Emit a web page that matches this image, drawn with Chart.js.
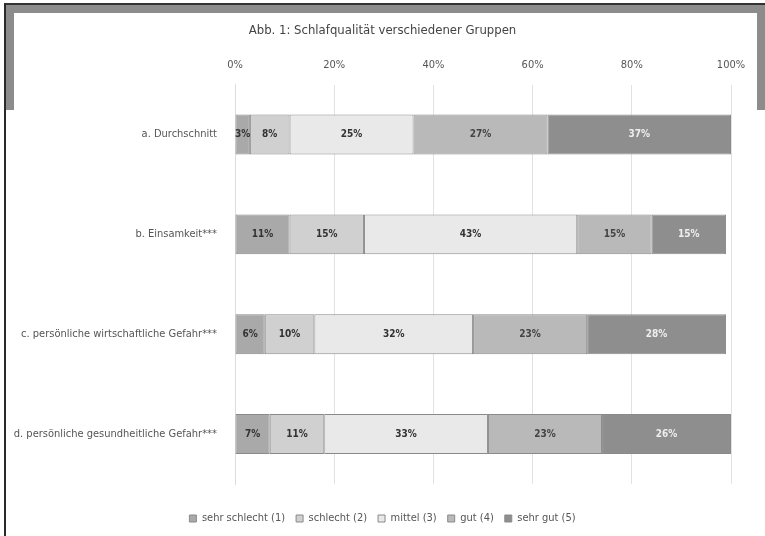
<!DOCTYPE html>
<html>
<head>
<meta charset="utf-8">
<script src="https://cdn.jsdelivr.net/npm/chart.js@4.4.1/dist/chart.umd.min.js"></script>
<style>
  html, body { margin: 0; padding: 0; background: #fff; }
  #wrap { position: relative; width: 765px; height: 536px; overflow: hidden; }
  #myChart { position: absolute; left: 0; top: 0; }
  .edge { position: absolute; pointer-events: none; }
</style>
</head>
<body>
<div id="wrap">
  <canvas id="myChart" width="765" height="536"></canvas>
  <!-- grey frame of the figure -->
  <div class="edge" style="left:4px;top:3px;width:761px;height:2px;background:#333"></div>
  <div class="edge" style="left:6px;top:5px;width:759px;height:8px;background:#8c8c8c"></div>
  <div class="edge" style="left:4px;top:3px;width:2px;height:533px;background:#2a2a2a"></div>
  <div class="edge" style="left:6px;top:5px;width:8px;height:105px;background:#8c8c8c"></div>
  <div class="edge" style="left:757px;top:5px;width:8px;height:105px;background:#8c8c8c"></div>
</div>
<script>
console.log("Start!");

const groups = ["a. Durchschnitt", "b. Einsamkeit***", "c. persönliche wirtschaftliche Gefahr***", "d. persönliche gesundheitliche Gefahr***"];
const ratingNames = ["sehr schlecht (1)", "schlecht (2)", "mittel (3)", "gut (4)", "sehr gut (5)"];
const sehrSchlecht = [3, 11, 6, 7];
const schlecht = [8, 15, 10, 11];
const mittel = [25, 43, 32, 33];
const gut = [27, 15, 23, 23];
const sehrGut = [37, 15, 28, 26];
const xTicks = [0, 20, 40, 60, 80, 100];

const fills = ['#a9a9a9', '#d0d0d0', '#e9e9e9', '#b9b9b9', '#8e8e8e'];
const labelColors = ['#333', '#333', '#333', '#444', '#eeeeee'];
const fontName = '"Liberation Sans Narrow", "DejaVu Sans Condensed", "Open Sans", sans-serif';

const seriesList = [sehrSchlecht, schlecht, mittel, gut, sehrGut];

// writes the percentage in the middle of every segment
const segmentLabels = {
  id: 'segmentLabels',
  afterDatasetsDraw(chart) {
    const ctx = chart.ctx;
    ctx.save();
    ctx.font = 'bold 10px ' + fontName;
    ctx.textAlign = 'center';
    ctx.textBaseline = 'middle';
    chart.data.datasets.forEach((ds, i) => {
      chart.getDatasetMeta(i).data.forEach((bar, j) => {
        const p = bar.getCenterPoint();
        ctx.fillStyle = labelColors[i];
        ctx.fillText(ds.data[j] + '%', p.x, p.y);
      });
    });
    ctx.restore();
  }
};

const data = {
  labels: groups,
  datasets: seriesList.map((values, i) => ({
    label: ratingNames[i],
    data: values,
    xAxisID: 'x',
    yAxisID: 'y',
    backgroundColor: fills[i],
    borderColor: '#8a8a8a',
    borderWidth: 1,
    borderSkipped: false,
    categoryPercentage: 0.8,
    barPercentage: 0.5
  }))
};

// blank scale: only reserves room, draws nothing
function spacer(pos, axis, size) {
  return {
    type: 'linear',
    position: pos,
    axis: axis,
    min: 0,
    max: 1,
    afterFit(scale) {
      if (axis === 'x') scale.height = size; else scale.width = size;
    },
    ticks: { display: false },
    grid: { display: false, drawTicks: false },
    border: { display: false }
  };
}

const config = {
  type: 'bar',
  data: data,
  options: {
    indexAxis: 'y',
    responsive: false,
    animation: false,
    layout: { padding: { top: 14, right: 0, bottom: 2, left: 0 } },
    scales: {
      x: {
        position: 'top',
        stacked: true,
        min: 0,
        max: 100,
        afterBuildTicks(scale) {
          scale.ticks = xTicks.map(v => ({ value: v }));
        },
        afterFit(scale) { scale.height = 36; },
        ticks: {
          color: '#555',
          font: { family: fontName, size: 11 },
          padding: 13,
          callback: v => v + '%'
        },
        grid: { color: '#e2e2e2', drawTicks: false },
        border: { display: false }
      },
      y: {
        stacked: true,
        afterFit(scale) { scale.width = 235; },
        ticks: {
          color: '#555',
          font: { family: fontName, size: 11 },
          padding: 10
        },
        grid: { display: false },
        border: { color: '#dcdcdc' }
      },
      gapBottom: spacer('bottom', 'x', 18),
      gapRight: spacer('right', 'y', 34)
    },
    plugins: {
      title: {
        display: true,
        text: 'Abb. 1: Schlafqualität verschiedener Gruppen',
        color: '#444',
        font: { family: fontName, size: 13, weight: 'normal' },
        padding: { top: 9, bottom: 10 }
      },
      legend: {
        position: 'bottom',
        labels: {
          color: '#555',
          font: { family: fontName, size: 11 },
          boxWidth: 7,
          boxHeight: 7,
          padding: 11
        }
      },
      tooltip: { enabled: false }
    }
  },
  plugins: [segmentLabels]
};

const ctx = document.getElementById('myChart');
new Chart(ctx, config);
</script>
</body>
</html>
